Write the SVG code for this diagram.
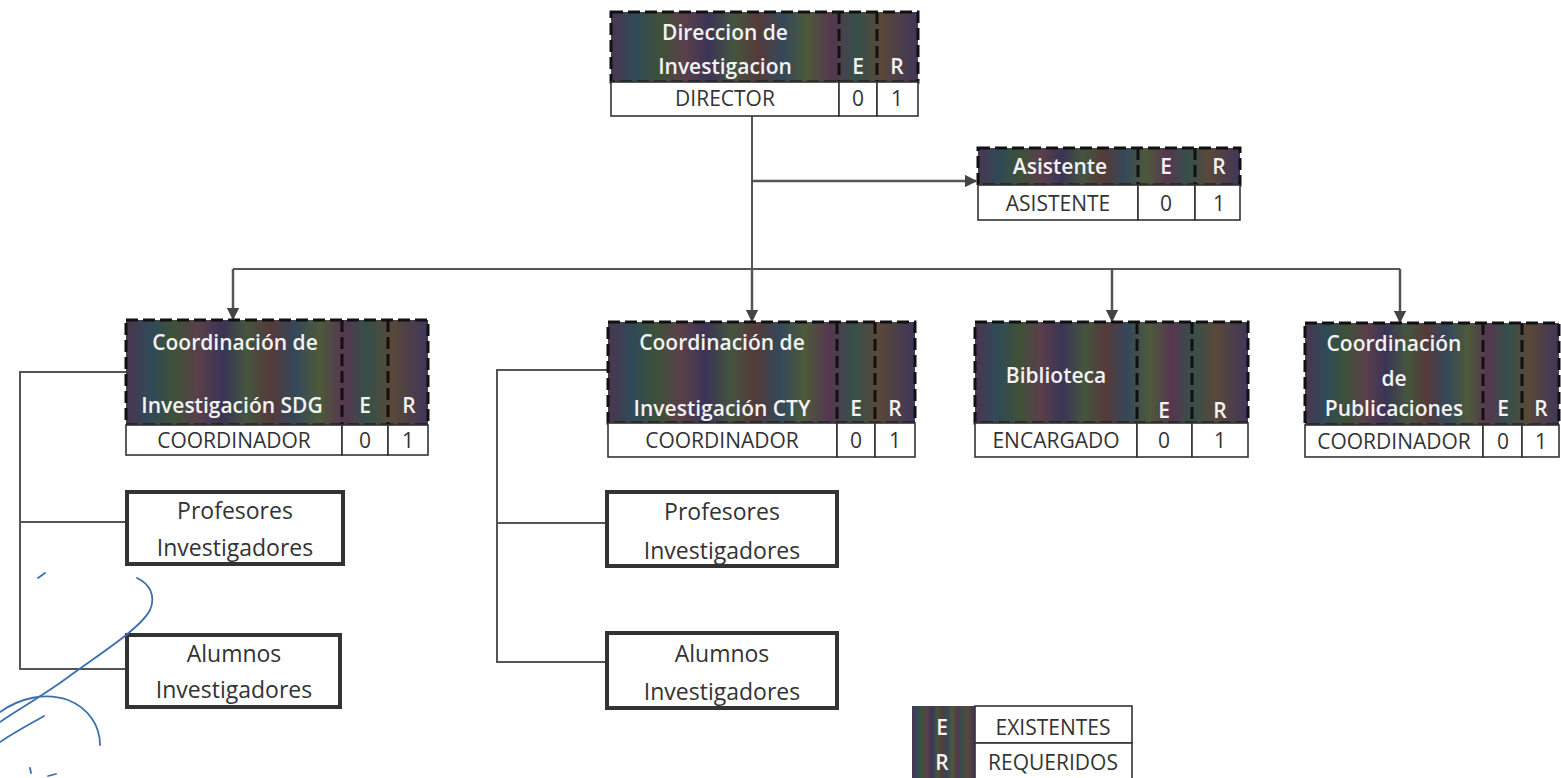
<svg xmlns="http://www.w3.org/2000/svg" width="1561" height="778" viewBox="0 0 1561 778">
<defs>
<linearGradient id="hdr" x1="0" y1="0" x2="1" y2="0" spreadMethod="reflect">
<stop offset="0" stop-color="#4b3550"/>
<stop offset="0.08" stop-color="#2f4a58"/>
<stop offset="0.16" stop-color="#3e5138"/>
<stop offset="0.24" stop-color="#5a3f4a"/>
<stop offset="0.32" stop-color="#3b3456"/>
<stop offset="0.40" stop-color="#44553e"/>
<stop offset="0.48" stop-color="#553a3a"/>
<stop offset="0.56" stop-color="#34485a"/>
<stop offset="0.64" stop-color="#4d5a3a"/>
<stop offset="0.72" stop-color="#563650"/>
<stop offset="0.80" stop-color="#35504a"/>
<stop offset="0.88" stop-color="#5a4838"/>
<stop offset="1" stop-color="#40365a"/>
</linearGradient>
<marker id="arr" viewBox="0 0 10 10" refX="9" refY="5" markerWidth="5" markerHeight="5" orient="auto" markerUnits="strokeWidth">
<path d="M0,0 L10,5 L0,10 z" fill="#444"/>
</marker>
<style>
.h{fill:url(#hdr);stroke:#111;stroke-width:3;stroke-dasharray:12 5}
.d{stroke:#111;stroke-width:3;stroke-dasharray:12 5;fill:none}
.c{fill:#fff;stroke:#333;stroke-width:1.6}
.b{fill:#fff;stroke:#333;stroke-width:4}
.ht{font-family:"Open Sans","Liberation Sans",sans-serif;font-weight:600;font-size:21px;fill:#f2f2f2;text-anchor:middle}
.ct{font-family:"Open Sans","Liberation Sans",sans-serif;font-size:21px;fill:#333;text-anchor:middle}
.bt{font-family:"Open Sans","Liberation Sans",sans-serif;font-size:23px;fill:#333;text-anchor:middle}
.ln{fill:none;stroke:#555;stroke-width:2}
.ar{fill:none;stroke:#555;stroke-width:2.5;marker-end:url(#arr)}
.pen{fill:none;stroke:#3c6fb0;stroke-width:1.8;stroke-linecap:round}
</style>
</defs>
<rect width="1561" height="778" fill="#fff"/>

<g id="connectors">
<path class="ln" d="M752,116 V269"/>
<path class="ar" d="M752,181 H976"/>
<path class="ln" d="M233,269 H1400"/>
<path class="ar" d="M233,269 V319"/>
<path class="ar" d="M752,269 V321"/>
<path class="ar" d="M1112,269 V321"/>
<path class="ar" d="M1400,269 V322"/>
<path class="ln" d="M126,372 H20 V669 H127 M20,522 H127"/>
<path class="ln" d="M608,370 H497 V662 H607 M497,523 H607"/>
</g>

<g id="n-direccion">
<rect class="h" x="611" y="12" width="307" height="70"/>
<path class="d" d="M839,12 V82 M877,12 V82"/>
<rect class="c" x="611" y="82" width="228" height="34"/>
<rect class="c" x="839" y="82" width="38" height="34"/>
<rect class="c" x="877" y="82" width="41" height="34"/>
<text class="ht" x="725" y="40">Direccion de</text>
<text class="ht" x="725" y="74">Investigacion</text>
<text class="ht" x="858" y="74">E</text>
<text class="ht" x="897" y="74">R</text>
<text class="ct" x="725" y="106">DIRECTOR</text>
<text class="ct" x="858" y="106">0</text>
<text class="ct" x="897" y="106">1</text>
</g>

<g id="n-asistente">
<rect class="h" x="978" y="148" width="262" height="37"/>
<path class="d" d="M1138,148 V185 M1195,148 V185"/>
<rect class="c" x="978" y="185" width="160" height="35"/>
<rect class="c" x="1138" y="185" width="57" height="35"/>
<rect class="c" x="1195" y="185" width="45" height="35"/>
<text class="ht" x="1060" y="174">Asistente</text>
<text class="ht" x="1166" y="174">E</text>
<text class="ht" x="1219" y="174">R</text>
<text class="ct" x="1058" y="211">ASISTENTE</text>
<text class="ct" x="1166" y="211">0</text>
<text class="ct" x="1219" y="211">1</text>
</g>

<g id="n-sdg">
<rect class="h" x="126" y="320" width="302" height="105"/>
<path class="d" d="M342,320 V425 M388,320 V425"/>
<rect class="c" x="126" y="425" width="216" height="30"/>
<rect class="c" x="342" y="425" width="46" height="30"/>
<rect class="c" x="388" y="425" width="40" height="30"/>
<text class="ht" x="235" y="350">Coordinación de</text>
<text class="ht" x="232" y="413">Investigación SDG</text>
<text class="ht" x="365" y="413">E</text>
<text class="ht" x="409" y="413">R</text>
<text class="ct" x="234" y="448">COORDINADOR</text>
<text class="ct" x="365" y="448">0</text>
<text class="ct" x="408" y="448">1</text>
</g>

<g id="n-sdg-prof">
<rect class="b" x="127" y="492" width="216" height="72"/>
<text class="bt" x="235" y="519">Profesores</text>
<text class="bt" x="235" y="556">Investigadores</text>
</g>

<g id="n-sdg-alum">
<rect class="b" x="127" y="635" width="213" height="72"/>
<text class="bt" x="234" y="662">Alumnos</text>
<text class="bt" x="234" y="698">Investigadores</text>
</g>

<g id="n-cty">
<rect class="h" x="608" y="322" width="307" height="101"/>
<path class="d" d="M837,322 V423 M875,322 V423"/>
<rect class="c" x="608" y="423" width="229" height="34"/>
<rect class="c" x="837" y="423" width="38" height="34"/>
<rect class="c" x="875" y="423" width="40" height="34"/>
<text class="ht" x="722" y="350">Coordinación de</text>
<text class="ht" x="722" y="416">Investigación CTY</text>
<text class="ht" x="856" y="416">E</text>
<text class="ht" x="895" y="416">R</text>
<text class="ct" x="722" y="448">COORDINADOR</text>
<text class="ct" x="856" y="448">0</text>
<text class="ct" x="895" y="448">1</text>
</g>

<g id="n-cty-prof">
<rect class="b" x="607" y="492" width="230" height="74"/>
<text class="bt" x="722" y="520">Profesores</text>
<text class="bt" x="722" y="559">Investigadores</text>
</g>

<g id="n-cty-alum">
<rect class="b" x="607" y="633" width="230" height="75"/>
<text class="bt" x="722" y="662">Alumnos</text>
<text class="bt" x="722" y="700">Investigadores</text>
</g>

<g id="n-biblioteca">
<rect class="h" x="975" y="322" width="273" height="101"/>
<path class="d" d="M1137,322 V423 M1192,322 V423"/>
<rect class="c" x="975" y="423" width="162" height="34"/>
<rect class="c" x="1137" y="423" width="55" height="34"/>
<rect class="c" x="1192" y="423" width="56" height="34"/>
<text class="ht" x="1056" y="383">Biblioteca</text>
<text class="ht" x="1164" y="418">E</text>
<text class="ht" x="1220" y="418">R</text>
<text class="ct" x="1056" y="448">ENCARGADO</text>
<text class="ct" x="1164" y="448">0</text>
<text class="ct" x="1220" y="448">1</text>
</g>

<g id="n-publicaciones">
<rect class="h" x="1305" y="323" width="254" height="102"/>
<path class="d" d="M1483,323 V425 M1522,323 V425"/>
<rect class="c" x="1305" y="425" width="178" height="32"/>
<rect class="c" x="1483" y="425" width="39" height="32"/>
<rect class="c" x="1522" y="425" width="37" height="32"/>
<text class="ht" x="1394" y="351">Coordinación</text>
<text class="ht" x="1394" y="386">de</text>
<text class="ht" x="1394" y="416">Publicaciones</text>
<text class="ht" x="1503" y="416">E</text>
<text class="ht" x="1541" y="416">R</text>
<text class="ct" x="1394" y="449">COORDINADOR</text>
<text class="ct" x="1503" y="449">0</text>
<text class="ct" x="1541" y="449">1</text>
</g>

<g id="legend">
<rect x="912" y="706" width="63" height="74" fill="url(#hdr)"/>
<rect class="c" x="975" y="706" width="157" height="37"/>
<rect class="c" x="975" y="743" width="157" height="37"/>
<text class="ht" x="942" y="735">E</text>
<text class="ht" x="942" y="770">R</text>
<text class="ct" x="1053" y="735">EXISTENTES</text>
<text class="ct" x="1053" y="770">REQUERIDOS</text>
</g>

<g id="pen-marks">
<path class="pen" d="M38,578 L45,573"/>
<path class="pen" d="M137,578 C150,584 156,596 150,610 C140,630 90,660 60,683 C35,700 15,712 0,722"/>
<path class="pen" d="M0,712 C20,698 45,692 68,700 C88,708 100,725 100,745"/>
<path class="pen" d="M0,742 C15,732 30,724 44,716"/>
<path class="pen" d="M30,768 L31,773 M48,776 L56,774" stroke="#222"/>
</g>
</svg>
